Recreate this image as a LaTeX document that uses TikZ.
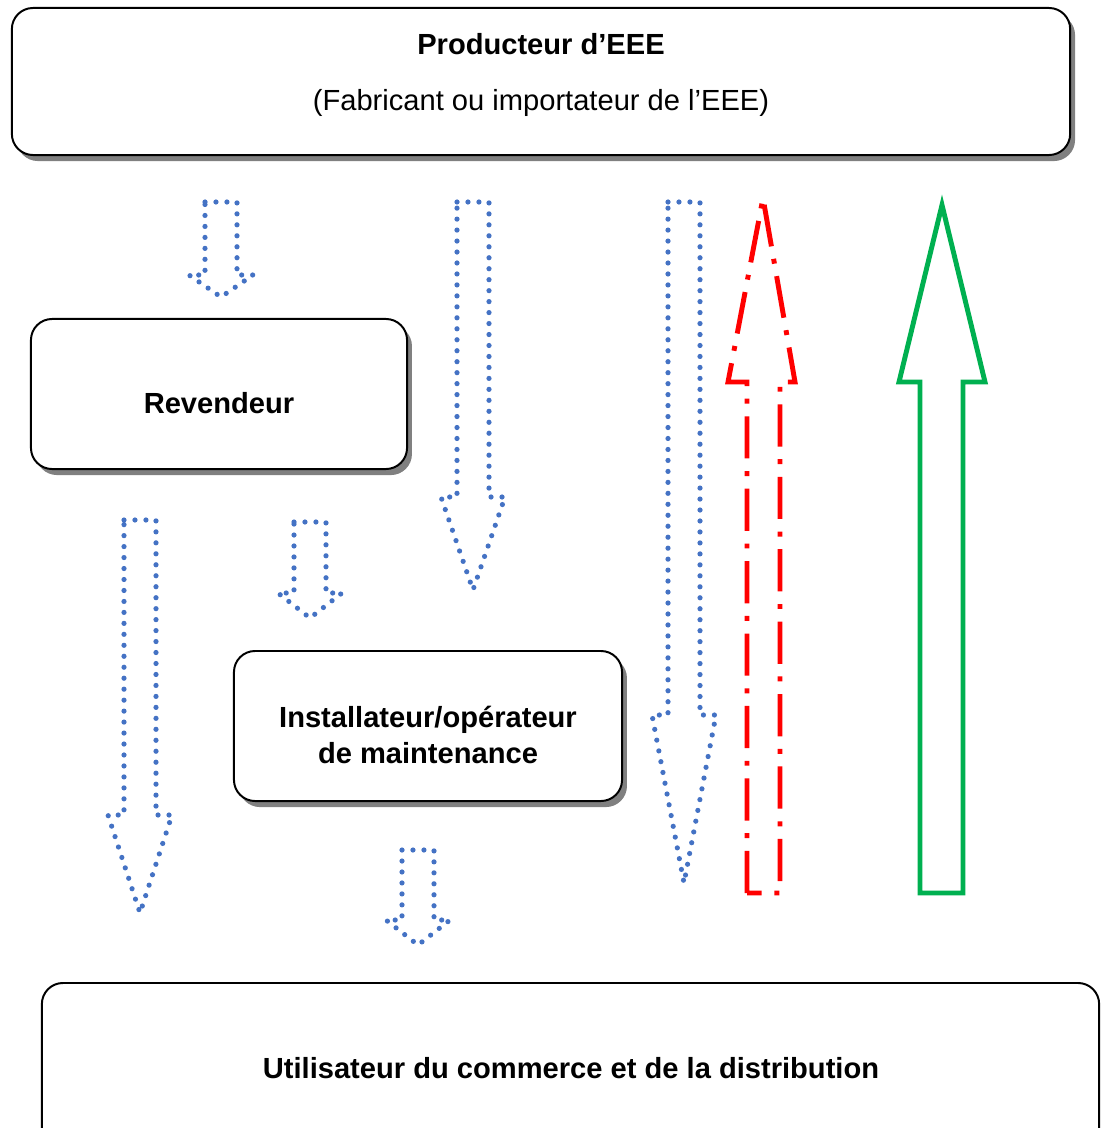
\documentclass[tikz,border=0pt]{standalone}
\usepackage{fontspec}
\setmainfont{Liberation Sans}
\usetikzlibrary{shadows}

\definecolor{dotblue}{RGB}{68,114,196}
\definecolor{arrowgreen}{RGB}{0,176,80}

\tikzset{
	box/.style={draw, line width=1.4pt, rounded corners=15pt, fill=white,
		drop shadow={shadow xshift=3.5pt, shadow yshift=-4.3pt, opacity=1, fill=black!50},
		inner sep=0pt},
	plainbox/.style={draw, line width=1.4pt, rounded corners=15pt, fill=white, inner sep=0pt},
	boxtext/.style={font=\fontsize{20.7}{25.5}\selectfont\bfseries, align=center},
	bluedots/.style={dotblue, line width=3.7pt, line cap=round, line join=round,
		dash pattern=on 0pt off 7.8pt},
	reddashdot/.style={red, line width=3.5pt, dash pattern=on 30pt off 9pt on 3.5pt off 9pt},
	greenup/.style={arrowgreen, line width=3.5pt}
}

\begin{document}
\begin{tikzpicture}[x=0.025cm, y=-0.025cm]
	\useasboundingbox (0,0) rectangle (1101,1128);

	% boxes
	\node[box, minimum width=26.45cm, minimum height=3.675cm] (prod) at (541,81.5) {};
	\node[boxtext] (prodname) at (541,44) {Producteur d’EEE};
	\node[font=\fontsize{20.7}{25}\selectfont] (prodnote) at (541,103) {(Fabricant ou importateur de l’EEE)};

	\node[box, minimum width=9.4cm, minimum height=3.75cm] (rev) at (219,394) {};
	\node[boxtext] (revname) at (219,403) {Revendeur};
	\node[box, minimum width=9.7cm, minimum height=3.75cm] (inst) at (428,726) {};
	\node[boxtext] (instname) at (428,735) {Installateur/opérateur\\de maintenance};
	\node[plainbox, minimum width=26.425cm, minimum height=4.25cm] (user) at (570.5,1068) {};
	\node[boxtext] (username) at (571,1068) {Utilisateur du commerce et de la distribution};

	% flows down
	\foreach \cx/\ytop/\ybase/\ytip in {221/202/275/297, 473/202/497/590, 684/202/715/883,
		140/520/815/913, 310/522/593/618, 418/850/920/945}
		\draw[bluedots] (\cx-16,\ytop) -- (\cx+16,\ytop) -- (\cx+16,\ybase) -- (\cx+32,\ybase)
			-- (\cx,\ytip) -- (\cx-32,\ybase) -- (\cx-16,\ybase) -- cycle;

	% flows up
	\draw[reddashdot]
		(747,893) -- (747,382) -- (728,382) -- (763,198) -- (795,382) -- (780,382) -- (780,893) -- cycle;
	\draw[greenup]
		(920,893) -- (920,382) -- (899,382) -- (942,205) -- (985,382) -- (963,382) -- (963,893) -- cycle;

\end{tikzpicture}
\end{document}
